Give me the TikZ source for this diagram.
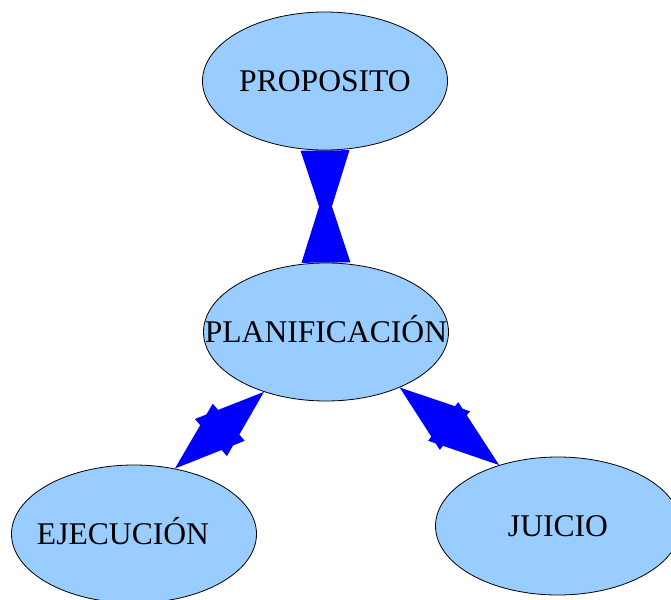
\documentclass[tikz,border=0pt]{standalone}
\usepackage{fontspec}
\setmainfont{Liberation Serif}
\usetikzlibrary{shapes.geometric,calc,backgrounds}

\definecolor{bubbleblue}{RGB}{153,204,255}
\definecolor{linkblue}{RGB}{0,0,255}

\begin{document}
\begin{tikzpicture}[x=1pt,y=-1pt,
    bubble/.style={ellipse,draw=black,line width=0.8pt,fill=bubbleblue,
      minimum width=245pt,minimum height=138pt,inner sep=0pt,
      text height=21pt,text depth=0pt,font=\fontsize{31.6}{38}\selectfont},
    link/.style={fill=linkblue}]
    \clip (0,0) rectangle (671,599);

    % Ellipses
    \node[bubble] (proposito) at (325,81) {\makebox[0pt]{PROPOSITO}};
    \node[bubble] (planificacion) at (326,332) {\makebox[0pt]{PLANIFICACIÓN}};
    \node[bubble] (ejecucion) at (134,534) {\makebox[0pt]{EJECUCIÓN\hspace{22pt}}};
    \node[bubble] (juicio) at (558,526) {\makebox[0pt]{JUICIO}};

    % Links
    \begin{scope}[on background layer]
      \coordinate (p1) at (proposito.south);
      \coordinate (p2) at (planificacion.north);
      \fill[link] ($(p1)!24.5pt!90:(p2)$) -- ($(p1)!24.5pt!-90:(p2)$) -- ($(p1)!76pt!(p2)$) -- cycle;
      \fill[link] ($(p2)!24.5pt!90:(p1)$) -- ($(p2)!24.5pt!-90:(p1)$) -- ($(p2)!76pt!(p1)$) -- cycle;

      \coordinate (e1) at (planificacion.224);
      \coordinate (e2) at (ejecucion.58);
      \fill[link] (e1) -- ($(e1)!70pt!(e2)!24.5pt!90:(e1)$) -- ($(e1)!70pt!(e2)!24.5pt!-90:(e1)$) -- cycle;
      \fill[link] (e2) -- ($(e2)!71pt!(e1)!24.5pt!90:(e2)$) -- ($(e2)!71pt!(e1)!24.5pt!-90:(e2)$) -- cycle;

      \coordinate (j1) at (planificacion.323);
      \coordinate (j2) at (juicio.134);
      \fill[link] (j1) -- ($(j1)!70pt!(j2)!24.5pt!90:(j1)$) -- ($(j1)!70pt!(j2)!24.5pt!-90:(j1)$) -- cycle;
      \fill[link] (j2) -- ($(j2)!71pt!(j1)!24.5pt!90:(j2)$) -- ($(j2)!71pt!(j1)!24.5pt!-90:(j2)$) -- cycle;
    \end{scope}
  \end{tikzpicture}
\end{document}
